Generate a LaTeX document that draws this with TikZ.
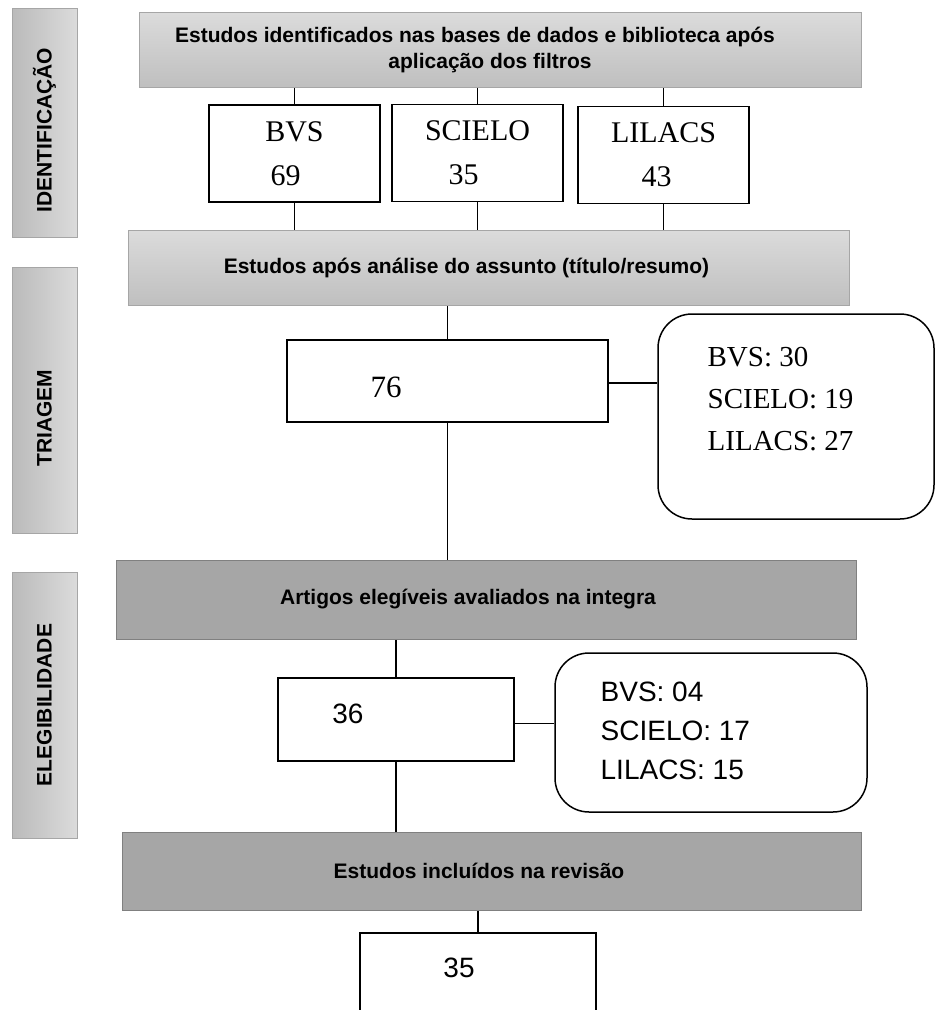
\documentclass[tikz,border=0pt]{standalone}
\usepackage{fontspec}
\setmainfont{Liberation Serif}
\setsansfont{Liberation Sans}
\begin{document}
\begin{tikzpicture}
	[x=1pt,y=-1pt,line width=1.3pt]
	\tikzstyle{phase}=[draw=black!35, line width=1pt, left color=black!27, right color=black!14, rotate=90, minimum height=65pt, inner sep=0pt, font=\sffamily\bfseries\fontsize{21}{25}\selectfont]
	\tikzstyle{light}=[draw=black!35, line width=1pt, top color=black!14, bottom color=black!25, inner sep=0pt, align=center, font=\sffamily\bfseries\fontsize{21}{26}\selectfont]
	\tikzstyle{dark}=[draw=black!50, line width=1pt, fill=black!35, inner sep=0pt, font=\sffamily\bfseries\fontsize{21}{26}\selectfont]
	\tikzstyle{base}=[draw, line width=1.5pt, fill=white, inner sep=0pt, align=center, minimum width=171pt, minimum height=97pt, font=\fontsize{30}{44}\selectfont]
	\tikzstyle{count}=[draw, line width=1.5pt, fill=white, inner sep=0pt]
	\tikzstyle{split}=[draw, line width=1.5pt, rounded corners=34pt, inner sep=0pt]
	\tikzstyle{list}=[inner sep=0pt, anchor=north west, align=left]

	\useasboundingbox (0,0) rectangle (936,1010);
	\clip (0,0) rectangle (936,1010);

	% fases
	\node[phase, minimum width=229pt] (P1) at (44.5,122.5) {IDENTIFICAÇÃO\hspace*{15pt}};
	\node[phase, minimum width=266pt] (P2) at (44.5,400) {TRIAGEM\hspace*{36pt}};
	\node[phase, minimum width=266pt] (P3) at (44.5,705) {ELEGIBILIDADE};

	% identificacao
	\node[light, minimum width=722pt, minimum height=75pt] (top) at (500,49.5)
		{Estudos identificados nas bases de dados e biblioteca após\hspace*{50pt}\\aplicação dos filtros\hspace*{20pt}};
	\node[base] (bvs) at (294.5,153.5) {BVS\\69\hspace*{18pt}};
	\node[base] (scielo) at (477.5,153) {SCIELO\\35\hspace*{28pt}};
	\node[base] (lilacs) at (663.5,155) {LILACS\\43\hspace*{14pt}};

	% triagem
	\node[light, minimum width=721pt, minimum height=75pt] (assunto) at (488.5,267.5)
		{Estudos após análise do assunto (título/resumo)\hspace*{44pt}};
	\node[count, minimum width=321pt, minimum height=82pt] (A) at (447.5,381) {};
	\node[font=\fontsize{31}{31}\selectfont] (tA) at (386,387) {76};
	\node[split, minimum width=276pt, minimum height=205pt] (RA) at (796,416.5) {};
	\node[list, font=\fontsize{29}{42}\selectfont] (lA) at (707,346.5) {BVS: 30\\SCIELO: 19\\LILACS: 27};

	% elegibilidade
	\node[dark, minimum width=740pt, minimum height=79pt] (artigos) at (486,599.5)
		{Artigos elegíveis avaliados na integra\hspace*{36pt}};
	\node[count, minimum width=236pt, minimum height=83pt] (B) at (396,719.5) {};
	\node[font=\sffamily\fontsize{28}{28}\selectfont] (tB) at (348,714) {36};
	\node[split, minimum width=312pt, minimum height=159pt] (RB) at (711,732.5) {};
	\node[list, font=\sffamily\fontsize{28}{39}\selectfont] (lB) at (600,681) {BVS: 04\\SCIELO: 17\\LILACS: 15};

	% inclusao
	\node[dark, minimum width=739pt, minimum height=78pt] (incl) at (491.5,871)
		{Estudos incluídos na revisão\hspace*{25pt}};
	\node[count, minimum width=236pt, minimum height=120pt] (C) at (478,993) {};
	\node[font=\sffamily\fontsize{28}{28}\selectfont] (tC) at (459,968) {35};

	\path
	(bvs.north) edge (bvs.north |- top.south)
	(scielo.north) edge (scielo.north |- top.south)
	(lilacs.north) edge (lilacs.north |- top.south)
	(bvs.south) edge (bvs.south |- assunto.north)
	(scielo.south) edge (scielo.south |- assunto.north)
	(lilacs.south) edge (lilacs.south |- assunto.north)
	(A.north) edge (A.north |- assunto.south)
	([yshift=-2pt]A.east) edge ([yshift=-2pt]A.east -| RA.west)
	(A.south) edge (A.south |- artigos.north)
	(B.north) edge (B.north |- artigos.south)
	([yshift=-4pt]B.east) edge ([yshift=-4pt]B.east -| RB.west)
	(B.south) edge (B.south |- incl.north)
	(C.north) edge (C.north |- incl.south);

\end{tikzpicture}
\end{document}
